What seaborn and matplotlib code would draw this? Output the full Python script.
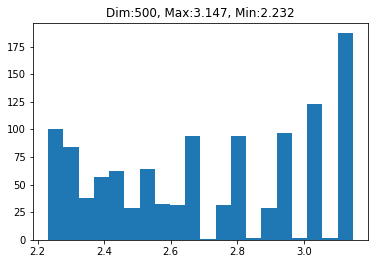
import numpy as np
import pandas as pd
import matplotlib
matplotlib.use("Agg")
import matplotlib.pyplot as plt
import seaborn as sns

# Histogram of 20 bins between min and max value
dim = 500
val_min = 2.232
val_max = 3.147
n_bins = 20
bin_counts = [100, 84, 38, 57, 62, 29, 64, 33, 32, 94,
              1, 32, 94, 2, 29, 97, 2, 123, 2, 187]


def main():
    edges = np.linspace(val_min, val_max, n_bins + 1)
    centers = (edges[:-1] + edges[1:]) / 2
    df = pd.DataFrame({"value": centers, "count": bin_counts})

    fig = plt.figure(figsize=(5.25, 3.667), dpi=72)
    ax = fig.add_axes([0.0873, 0.0909, 0.8862, 0.8221])

    sns.histplot(data=df, x="value", weights="count", bins=n_bins,
                 binrange=(val_min, val_max), ax=ax,
                 color="#1f77b4", alpha=1, linewidth=0)

    ax.set_title(f"Dim:{dim}, Max:{val_max}, Min:{val_min}", fontsize=12)
    ax.set_xlabel("")
    ax.set_ylabel("")
    ax.set_xticks([2.2, 2.4, 2.6, 2.8, 3.0])
    ax.set_yticks(np.arange(0, 176, 25))
    ax.set_xlim(val_min - 0.05 * (val_max - val_min),
                val_max + 0.05 * (val_max - val_min))
    ax.set_ylim(0, max(bin_counts) * 1.05)
    ax.tick_params(labelsize=10)

    fig.savefig("out.png", dpi=72)


if __name__ == "__main__":
    main()
